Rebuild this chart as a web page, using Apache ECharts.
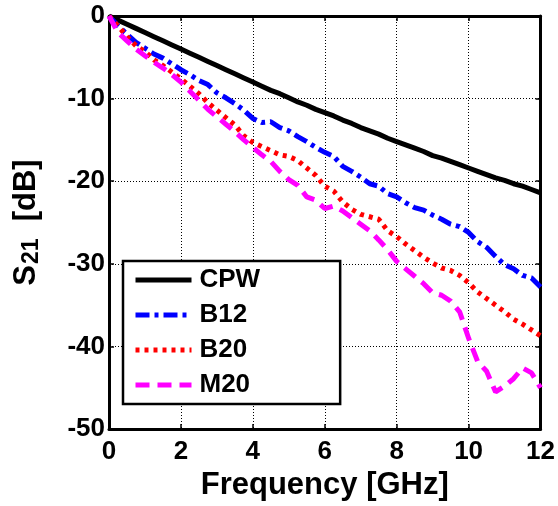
<!DOCTYPE html>
<html>
<head>
<meta charset="utf-8">
<title>S21</title>
<script src="https://cdn.jsdelivr.net/npm/echarts@6/dist/echarts.min.js"></script>
<style>
    html, body { margin: 0; padding: 0; background: #fff; }
    #main { width: 558px; height: 506px; }
</style>
</head>
<body>
<div id="main"></div>
<script type="text/javascript">
    // frequency points [GHz]
    var freq = [0,0.25,0.5,0.75,1,1.25,1.5,1.75,2,2.25,2.5,2.75,3,3.25,3.5,3.75,4,4.25,4.5,4.75,5,5.25,5.5,5.75,6,
                6.25,6.5,6.75,7,7.25,7.5,7.75,8,8.25,8.5,8.75,9,9.25,9.5,9.75,10,10.25,10.5,10.75,11,11.25,11.5,11.75,12];

    // S21 [dB]
    var cpw = [0,-0.5,-1.0,-1.5,-2.0,-2.5,-3.0,-3.5,-4.0,-4.5,-5.0,-5.5,-6.0,-6.5,-7.0,-7.5,-8.0,-8.5,-9.0,-9.4,-9.9,-10.4,-10.8,-11.3,-11.7,
               -12.1,-12.6,-13.0,-13.5,-13.9,-14.3,-14.8,-15.2,-15.6,-16.0,-16.4,-16.9,-17.2,-17.6,-18.0,-18.4,-18.8,-19.2,-19.6,-19.9,-20.3,-20.6,-21.0,-21.4];
    var b12 = [0,-1.2,-2.2,-3.2,-3.9,-4.6,-5.1,-5.8,-6.5,-7.1,-7.8,-8.3,-9.3,-9.9,-10.6,-11.4,-12.4,-12.9,-12.8,-13.5,-13.9,-14.6,-15.2,-15.9,-16.5,
               -17.0,-18.2,-18.8,-19.5,-20.3,-20.6,-21.5,-21.9,-22.6,-23.2,-23.5,-24.1,-24.6,-25.2,-25.5,-26.2,-27.3,-28.0,-29.1,-30.1,-30.6,-31.4,-31.7,-32.8];
    var b20 = [0,-1.2,-2.5,-3.6,-4.3,-5.3,-6.0,-6.8,-7.6,-8.5,-9.4,-10.5,-11.4,-12.3,-13.2,-14.5,-15.3,-15.8,-16.3,-16.8,-17.0,-17.5,-18.4,-19.3,-20.6,
               -21.2,-22.5,-23.4,-24.0,-24.3,-24.6,-26.0,-26.7,-27.6,-28.4,-29.2,-29.9,-30.5,-30.8,-31.4,-32.3,-33.4,-34.2,-35.0,-35.8,-36.7,-37.3,-38.0,-38.7];
    var m20 = [0,-2.0,-3.0,-4.0,-4.8,-5.6,-6.3,-7.1,-8.0,-9.1,-10.2,-11.3,-12.2,-13.1,-14.0,-15.0,-15.9,-16.8,-17.6,-18.8,-19.8,-20.5,-21.9,-22.3,-23.3,
               -23.0,-23.6,-24.4,-25.2,-26.0,-27.1,-28.3,-29.7,-30.6,-31.5,-32.4,-33.5,-33.8,-34.5,-35.8,-39.0,-41.8,-43.0,-45.5,-44.8,-43.9,-42.6,-43.2,-45.0];

    var names = ['CPW', 'B12', 'B20', 'M20'];
    var xTicks = [0, 12, 2];      // min, max, interval
    var yTicks = [-50, 0, 10];

    function pairs(ys) {
        var out = [];
        for (var i = 0; i < freq.length; i++) {
            out.push([freq[i], ys[i]]);
        }
        return out;
    }

    var font = 'Liberation Sans, Arial, Helvetica, sans-serif';

    var myChart = echarts.init(document.getElementById('main'), null, {renderer: 'canvas'});

    var option = {
        animation: false,
        backgroundColor: '#fff',
        grid: { left: 104, top: 16, width: 437, height: 419, containLabel: false },
        legend: {
            data: names,
            orient: 'vertical',
            left: 123,
            top: 261,
            padding: [6, 80, 6, 10],
            itemGap: 9,
            itemWidth: 56,
            itemHeight: 25,
            borderColor: '#000',
            borderWidth: 2.5,
            backgroundColor: '#fff',
            itemStyle: { opacity: 0 },
            lineStyle: { width: 5 },
            textStyle: { fontFamily: font, fontSize: 26, fontWeight: 'bold', color: '#000', padding: [0, 0, 0, 3] }
        },
        xAxis: [{
            type: 'value',
            min: xTicks[0], max: xTicks[1], interval: xTicks[2],
            name: 'Frequency [GHz]',
            nameLocation: 'middle',
            nameGap: 34,
            nameTextStyle: { fontFamily: font, fontSize: 31, fontWeight: 'bold', color: '#000' },
            axisLine: { onZero: false, lineStyle: { color: '#000', width: 3 } },
            axisTick: { inside: true, length: 5, lineStyle: { color: '#000', width: 1.5 } },
            axisLabel: { margin: 10, fontFamily: font, fontSize: 26, fontWeight: 'bold', color: '#000' },
            splitLine: { show: true, lineStyle: { color: '#000', width: 1, type: [1, 2] } }
        }, {
            type: 'value', position: 'top',
            min: xTicks[0], max: xTicks[1], interval: xTicks[2],
            axisLine: { onZero: false, lineStyle: { color: '#000', width: 3 } },
            axisTick: { inside: true, length: 5, lineStyle: { color: '#000', width: 1.5 } },
            axisLabel: { show: false },
            splitLine: { show: false }
        }],
        yAxis: [{
            type: 'value',
            min: yTicks[0], max: yTicks[1], interval: yTicks[2],
            name: '{a|S}{b|21}{a|  [dB]}',
            nameLocation: 'middle',
            nameRotate: 90,
            nameGap: 66,
            nameTextStyle: {
                rich: {
                    a: { fontFamily: font, fontSize: 31, fontWeight: 'bold', color: '#000', lineHeight: 34 },
                    b: { fontFamily: font, fontSize: 23, fontWeight: 'bold', color: '#000', lineHeight: 24,
                         verticalAlign: 'bottom', padding: [12, 0, 0, 1] }
                }
            },
            axisLine: { onZero: false, lineStyle: { color: '#000', width: 3 } },
            axisTick: { inside: true, length: 5, lineStyle: { color: '#000', width: 1.5 } },
            axisLabel: { margin: 4, fontFamily: font, fontSize: 26, fontWeight: 'bold', color: '#000' },
            splitLine: { show: true, lineStyle: { color: '#000', width: 1, type: [1, 2] } }
        }, {
            type: 'value', position: 'right',
            min: yTicks[0], max: yTicks[1], interval: yTicks[2],
            axisLine: { onZero: false, lineStyle: { color: '#000', width: 3 } },
            axisTick: { inside: true, length: 5, lineStyle: { color: '#000', width: 1.5 } },
            axisLabel: { show: false },
            splitLine: { show: false }
        }],
        series: [{
            name: 'CPW', type: 'line', symbol: 'none', data: pairs(cpw),
            lineStyle: { color: '#000', width: 5 }, itemStyle: { color: '#000' }
        }, {
            name: 'B12', type: 'line', symbol: 'none', data: pairs(b12),
            lineStyle: { color: '#0000ff', width: 5, type: [14, 5, 4, 5] }, itemStyle: { color: '#0000ff' }
        }, {
            name: 'B20', type: 'line', symbol: 'none', data: pairs(b20),
            lineStyle: { color: '#ff0000', width: 5, type: [4, 5] }, itemStyle: { color: '#ff0000' }
        }, {
            name: 'M20', type: 'line', symbol: 'none', data: pairs(m20),
            lineStyle: { color: '#ff00ff', width: 5, type: [14, 8] }, itemStyle: { color: '#ff00ff' }
        }]
    };

    myChart.setOption(option);
</script>
</body>
</html>
